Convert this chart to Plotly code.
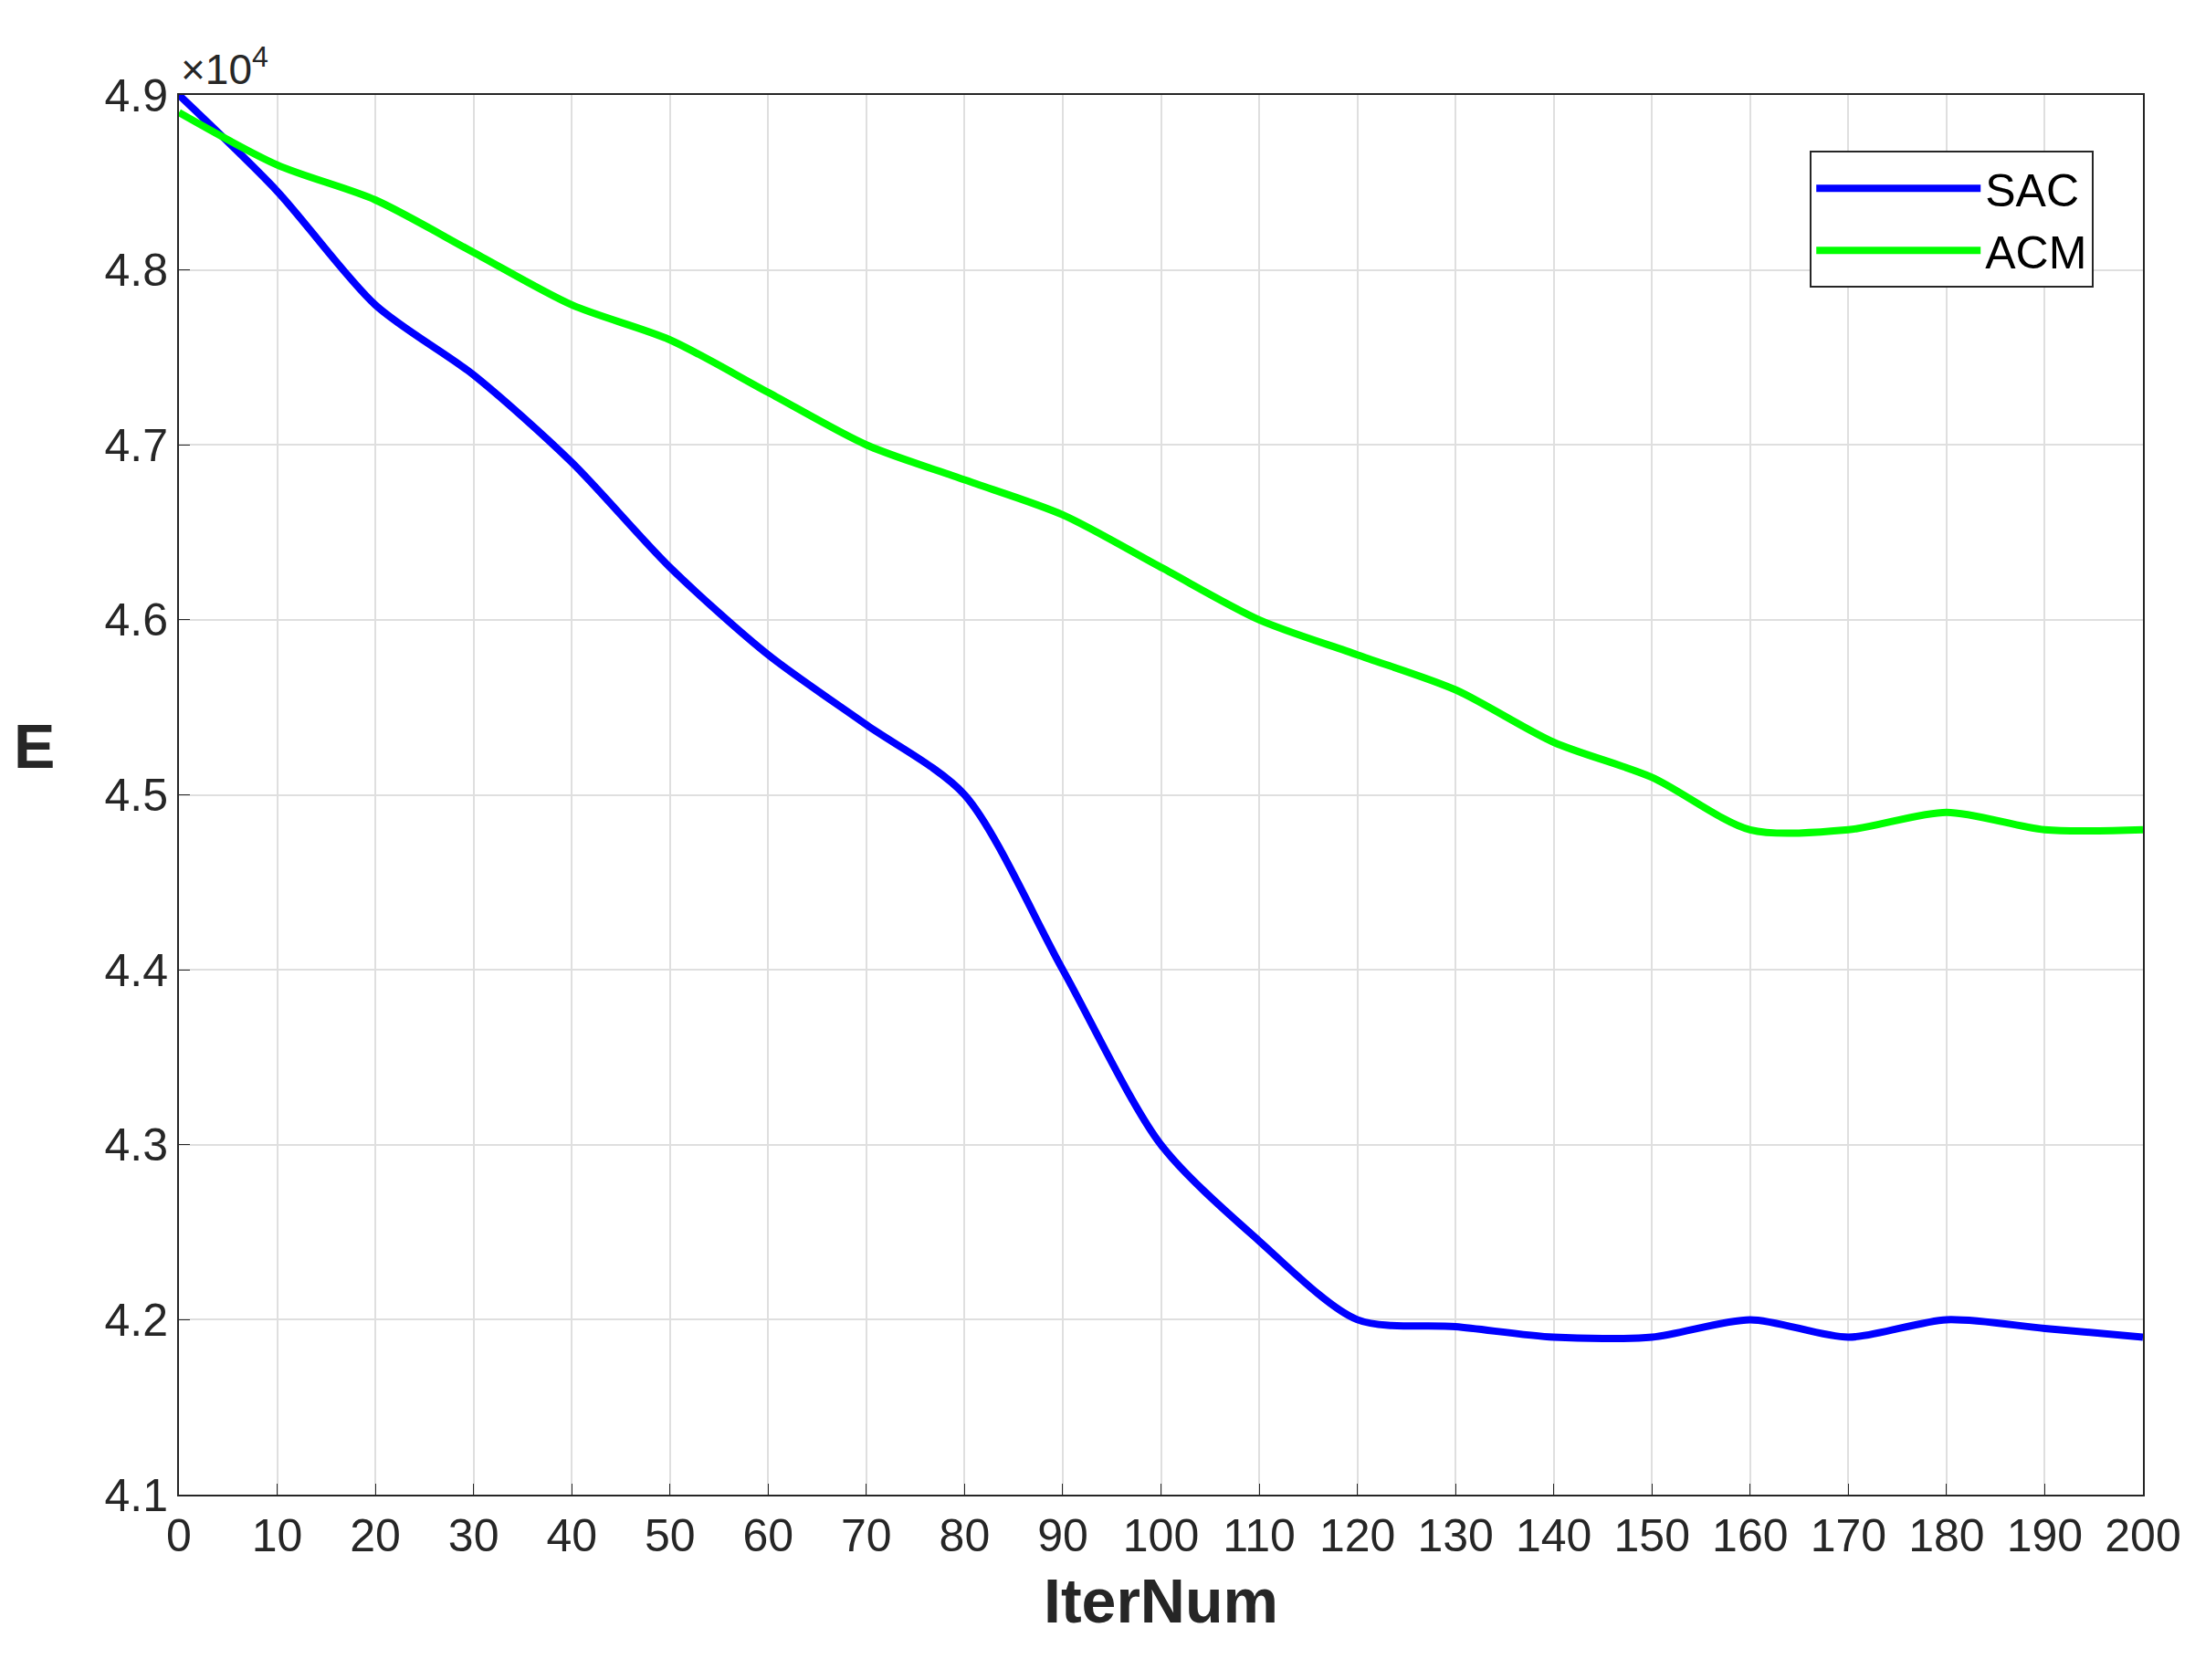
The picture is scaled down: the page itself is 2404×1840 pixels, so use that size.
import plotly.graph_objects as go

iters = [0, 10, 20, 30, 40, 50, 60, 70, 80, 90, 100, 110, 120, 130, 140, 150, 160, 170, 180, 190, 200]
sac = [49000, 48450, 47800, 47400, 46900, 46300, 45800, 45400, 45000, 44000, 43000, 42450, 42000, 41960, 41900, 41900, 42000, 41900, 42000, 41950, 41900]
acm = [48900, 48600, 48400, 48100, 47800, 47600, 47300, 47000, 46800, 46600, 46300, 46000, 45800, 45600, 45300, 45100, 44800, 44800, 44900, 44800, 44800]
yticks = [41000, 42000, 43000, 44000, 45000, 46000, 47000, 48000, 49000]
ytext = ["4.1", "4.2", "4.3", "4.4", "4.5", "4.6", "4.7", "4.8", "4.9"]
xticks = list(range(0, 201, 10))

fig = go.Figure()
fig.add_trace(go.Scatter(x=iters, y=sac, name="SAC", mode="lines",
                         line=dict(color="#0000ff", width=8, shape="spline", smoothing=0.8)))
fig.add_trace(go.Scatter(x=iters, y=acm, name="ACM", mode="lines",
                         line=dict(color="#00ff00", width=8, shape="spline", smoothing=0.8)))

font = "Liberation Sans, Arial, sans-serif"
fig.update_layout(
    width=2404, height=1840, paper_bgcolor="white", plot_bgcolor="white",
    margin=dict(l=188, r=65, t=96, b=211),
    font=dict(family=font, color="#262626", size=50),
    showlegend=True,
    legend=dict(x=0.975, y=0.96, xanchor="right", yanchor="top", itemwidth=180,
                bordercolor="#262626", borderwidth=2, bgcolor="white",
                font=dict(size=50, color="#000000")),
    xaxis=dict(range=[0, 200], tickvals=xticks, showgrid=True, gridcolor="#dfdfdf",
               gridwidth=2, showline=True, linecolor="#262626", linewidth=2, mirror=True,
               ticks="inside", ticklen=12, tickcolor="#262626", zeroline=False,
               title=dict(text="<b>IterNum</b>", font=dict(size=68, color="#262626"), standoff=20)),
    yaxis=dict(range=[41000, 49000], tickvals=yticks, ticktext=ytext, showgrid=True,
               gridcolor="#dfdfdf", gridwidth=2, showline=True, linecolor="#262626",
               linewidth=2, mirror=True, ticks="inside", ticklen=12, tickcolor="#262626",
               zeroline=False),
)
fig.add_annotation(xref="paper", yref="paper", x=0, y=1, xanchor="left", yanchor="bottom",
                   text="×10<sup>4</sup>", showarrow=False, font=dict(size=46, color="#262626"))
fig.add_annotation(xref="paper", yref="paper", x=-0.085, y=0.535, xanchor="left", yanchor="middle",
                   text="<b>E</b>", showarrow=False, font=dict(size=68, color="#262626"))
fig.write_html("out.html")
